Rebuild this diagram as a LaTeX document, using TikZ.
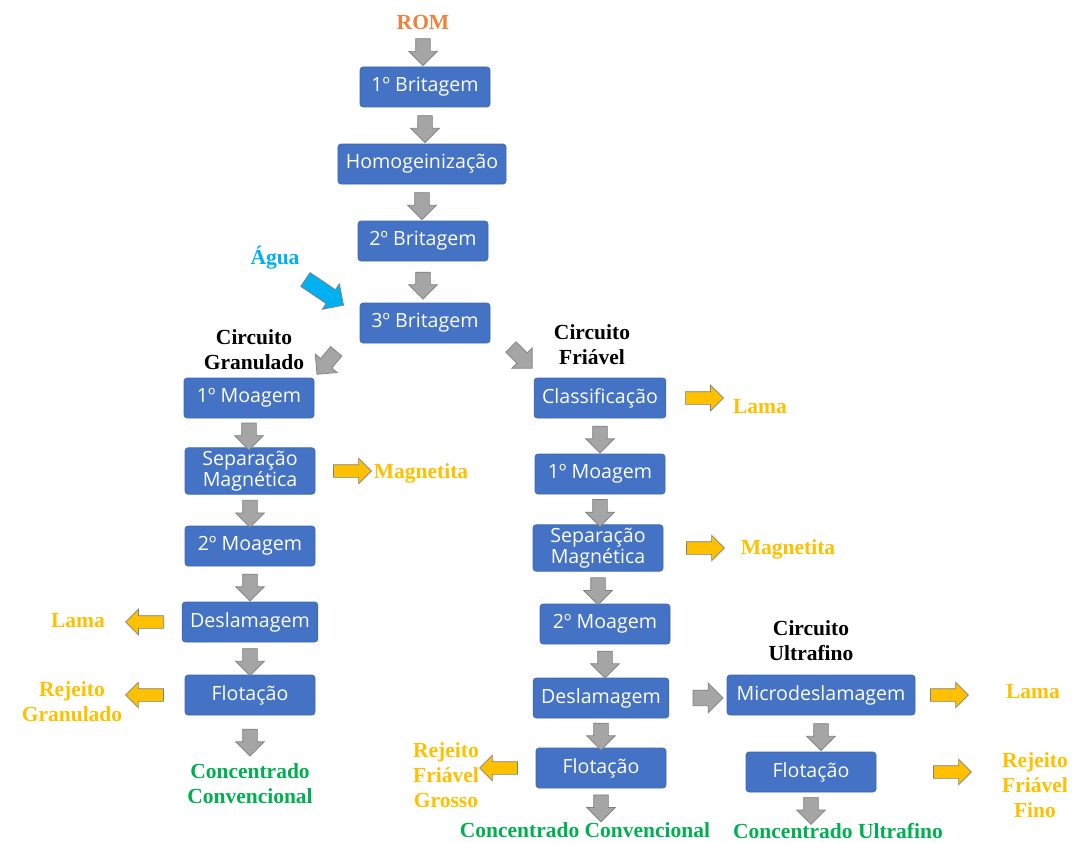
\documentclass[tikz,border=0pt]{standalone}
\usepackage{fontspec}
\setmainfont{Liberation Serif}
\newfontfamily\boxfont{Open Sans}
\usetikzlibrary{shapes.arrows,calc}
\definecolor{boxblue}{HTML}{4472C4}
\definecolor{arrgray}{HTML}{A5A5A5}
\definecolor{arredge}{HTML}{808080}
\definecolor{gold}{HTML}{FFC000}
\definecolor{aqua}{HTML}{00B0F0}
\definecolor{romorange}{HTML}{F0803A}
\definecolor{leafgreen}{HTML}{00B050}

\begin{document}
\begin{tikzpicture}[x=1pt,y=-1pt,
  stage/.style={rectangle,rounded corners=3pt,fill=boxblue,draw=boxblue!90!black,line width=0.6pt,
    text=white,minimum width=130pt,minimum height=40pt,inner xsep=8pt,align=center,
    font=\boxfont\fontsize{19.6}{17.5}\selectfont},
  tag/.style={font=\bfseries\fontsize{21.5}{25}\selectfont,align=center,inner sep=1pt},
  outtag/.style={tag,text=gold},
  fat/.style={single arrow,single arrow head extend=7pt,inner xsep=0pt,inner ysep=7pt,
    line width=0.7pt,draw=arredge},
  dnarrow/.style={fat,fill=arrgray,minimum height=27pt,rotate=-90},
  sidearrow/.style={fat,fill=gold,inner ysep=6pt,single arrow head extend=6.5pt,minimum height=38pt}]

    \useasboundingbox (0,0) rectangle (1072,843);

    % main line
    \node[tag,text=romorange] (rom) at (423,22) {ROM};
    \node[stage] (b1) at (425,87) {1º Britagem};
    \node[stage] (hom) at (422,164) {Homogeinização};
    \node[stage] (b2) at (423,241) {2º Britagem};
    \node[stage] (b3) at (425,323) {3º Britagem};
    \node[tag,text=aqua] (agua) at (275,258) {Água};

    % circuito granulado
    \node[tag] (cg) at (254,350) {Circuito\\Granulado};
    \node[stage] (gm1) at (249,398) {1º Moagem};
    \node[stage] (gsep) at (250,471) {Separação\\Magnética};
    \node[stage] (gm2) at (250,546) {2º Moagem};
    \node[stage] (gdes) at (250,622) {Deslamagem};
    \node[stage] (gflo) at (250,695) {Flotação};
    \node[tag,text=leafgreen] (gconc) at (250,784) {Concentrado\\Convencional};
    \node[outtag] (gmag) at (421,473) {Magnetita};
    \node[outtag] (glama) at (78,621) {Lama};
    \node[outtag] (grej) at (72,702) {Rejeito\\Granulado};

    % circuito friavel
    \node[tag] (cf) at (592,345) {Circuito\\Friável};
    \node[stage] (fcla) at (600,398) {Classificação};
    \node[stage] (fm1) at (600,474) {1º Moagem};
    \node[stage] (fsep) at (598,548) {Separação\\Magnética};
    \node[stage] (fm2) at (605,624) {2º Moagem};
    \node[stage] (fdes) at (601,698) {Deslamagem};
    \node[stage] (fflo) at (601,768) {Flotação};
    \node[tag,text=leafgreen] (fconc) at (585,830) {Concentrado Convencional};
    \node[outtag] (flama) at (760,407) {Lama};
    \node[outtag] (fmag) at (788,549) {Magnetita};
    \node[outtag] (frej) at (446,775) {Rejeito\\Friável\\Grosso};

    % circuito ultrafino
    \node[tag] (cu) at (811,641) {Circuito\\Ultrafino};
    \node[stage,minimum width=188pt] (udes) at (821,695) {Microdeslamagem};
    \node[stage] (uflo) at (811,772) {Flotação};
    \node[tag,text=leafgreen] (uconc) at (838,831) {Concentrado Ultrafino};
    \node[outtag] (ulama) at (1033,692) {Lama};
    \node[outtag] (urej) at (1035,785) {Rejeito\\Friável\\Fino};

    % fluxo vertical
    \foreach \a/\b in {rom/b1,b1/hom,hom/b2,b2/b3,
                       gm1/gsep,gsep/gm2,gm2/gdes,gdes/gflo,gflo/gconc,
                       fcla/fm1,fm1/fsep,fsep/fm2,fm2/fdes,fdes/fflo,fflo/fconc,
                       udes/uflo,uflo/uconc}
      \node[dnarrow] at ($(\a.south)!.5!(\a.south|-\b.north)$) {};

    % entradas e saidas laterais
    \node[fat,fill=aqua,inner ysep=8pt,minimum height=46pt,rotate=-34] (aguaarr) at (321,290) {};
    \node[fat,fill=arrgray,minimum height=30pt,rotate=-130] (tog) at (329,360) {};
    \node[fat,fill=arrgray,minimum height=30pt,rotate=-45] (tof) at (519,355) {};
    \node[fat,fill=arrgray,inner ysep=7.5pt,minimum height=30pt] (tou) at ([xshift=35pt]fdes.east) {};
    \node[sidearrow] at ([xshift=34pt]gsep.east) {};
    \node[sidearrow,rotate=180] at ([xshift=-34pt]gdes.west) {};
    \node[sidearrow,rotate=180] at ([xshift=-37pt]gflo.west) {};
    \node[sidearrow] at ([xshift=35pt]fcla.east) {};
    \node[sidearrow] at ([xshift=39pt]fsep.east) {};
    \node[sidearrow,rotate=180] at ([xshift=-34pt]fflo.west) {};
    \node[sidearrow] at ([xshift=31pt]udes.east) {};
    \node[sidearrow] at ([xshift=73pt]uflo.east) {};
\end{tikzpicture}
\end{document}
